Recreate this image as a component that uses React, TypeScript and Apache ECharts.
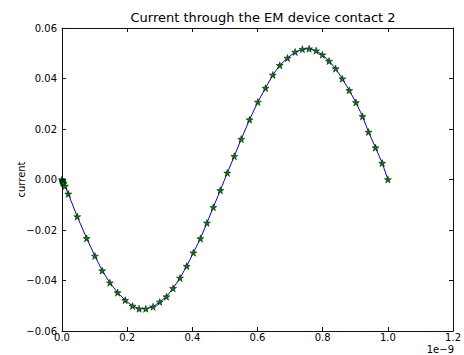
import React, { useEffect, useRef } from "react";
import * as echarts from "echarts";

// time in units of 1e-9 s
const times = [
  0, 0.001, 0.002, 0.003, 0.005, 0.0092, 0.0193, 0.0468, 0.0756, 0.101, 0.1234,
  0.147, 0.1705, 0.1938, 0.2164, 0.2366, 0.2571, 0.2795, 0.3, 0.3205, 0.3407,
  0.3621, 0.3826, 0.4031, 0.4246, 0.4448, 0.4644, 0.4858, 0.5072, 0.5286,
  0.5501, 0.5755, 0.6009, 0.6245, 0.6468, 0.6682, 0.6918, 0.7154, 0.7377,
  0.7582, 0.7796, 0.799, 0.8194, 0.8397, 0.8602, 0.8816, 0.902, 0.9223, 0.9407,
  0.9621, 0.9826, 1.0,
];
const currents = [
  0, -0.0004, -0.0008, -0.0012, -0.0016, -0.0026, -0.0057, -0.0147, -0.0233,
  -0.0303, -0.0361, -0.0409, -0.0448, -0.0478, -0.0501, -0.0512, -0.0512,
  -0.0504, -0.0485, -0.0464, -0.0431, -0.039, -0.0343, -0.029, -0.0234, -0.0172,
  -0.011, -0.0043, 0.0026, 0.0092, 0.016, 0.0237, 0.0307, 0.0362, 0.0414,
  0.0452, 0.0481, 0.0505, 0.0516, 0.0518, 0.051, 0.0494, 0.0469, 0.0439, 0.0399,
  0.0353, 0.0305, 0.025, 0.0188, 0.0126, 0.0065, 0,
];
const xTicks = { min: 0, max: 1.2, interval: 0.2 };
const yTicks = { min: -0.06, max: 0.06, interval: 0.02 };
const title = "Current through the EM device contact 2";
const yName = "current";
const xOffsetText = "1e\u22129";

const STAR =
  "path://M0 -1 L0.2245 -0.309 L0.951 -0.309 L0.3633 0.118 L0.588 0.809 L0 0.382 L-0.588 0.809 L-0.3633 0.118 L-0.951 -0.309 L-0.2245 -0.309 Z";

const FONT = "DejaVu Sans";
const minus = (s: string) => s.replace("-", "\u2212");

export default function App() {
  const ref = useRef<HTMLDivElement>(null);
  useEffect(() => {
    if (!ref.current) return;
    const chart = echarts.init(ref.current, undefined, { renderer: "svg" });
    const axisLine = { show: true, onZero: false, lineStyle: { color: "#111", width: 1 } };
    const tick = { show: true, inside: true, length: 4, lineStyle: { color: "#111" } };
    const data = times.map((t, i) => [t, currents[i]]);
    chart.setOption({
      animation: false,
      backgroundColor: "#fff",
      title: {
        text: title,
        left: 258,
        top: 6,
        textAlign: "center",
        textStyle: { fontFamily: FONT, fontSize: 13, fontWeight: "normal", color: "#000" },
      },
      grid: { left: 62, right: 10, top: 28, bottom: 24, containLabel: false },
      xAxis: [
        {
          type: "value",
          ...xTicks,
          axisLine,
          axisTick: tick,
          splitLine: { show: false },
          axisLabel: {
            margin: 1,
            fontFamily: FONT,
            fontSize: 10,
            color: "#000",
            formatter: (v: number) => minus(v.toFixed(1)),
          },
        },
        {
          type: "value",
          position: "top",
          ...xTicks,
          axisLine,
          axisTick: tick,
          splitLine: { show: false },
          axisLabel: { show: false },
        },
      ],
      yAxis: [
        {
          type: "value",
          ...yTicks,
          name: yName,
          nameLocation: "middle",
          nameGap: 36,
          nameMoveOverlap: false,
          nameTextStyle: { fontFamily: FONT, fontSize: 10, color: "#000" },
          axisLine,
          axisTick: tick,
          splitLine: { show: false },
          axisLabel: {
            margin: 5,
            fontFamily: FONT,
            fontSize: 10,
            color: "#000",
            formatter: (v: number) => minus(v.toFixed(2)),
          },
        },
        {
          type: "value",
          position: "right",
          ...yTicks,
          axisLine,
          axisTick: tick,
          splitLine: { show: false },
          axisLabel: { show: false },
        },
      ],
      graphic: [
        {
          type: "text",
          right: 10,
          top: 344,
          style: { text: xOffsetText, font: `10px "${FONT}"`, fill: "#000" },
        },
      ],
      series: [
        {
          type: "line",
          data,
          xAxisIndex: 0,
          yAxisIndex: 0,
          lineStyle: { color: "#0000ff", width: 1 },
          symbol: STAR,
          symbolSize: 7,
          showAllSymbol: true,
          itemStyle: { color: "#007f00", borderColor: "#000", borderWidth: 0.5 },
        },
      ],
    });
    return () => chart.dispose();
  }, []);
  return (
    <div
      ref={ref}
      style={{ position: "fixed", left: 0, top: 0, width: 464, height: 355, background: "#fff" }}
    />
  );
}
